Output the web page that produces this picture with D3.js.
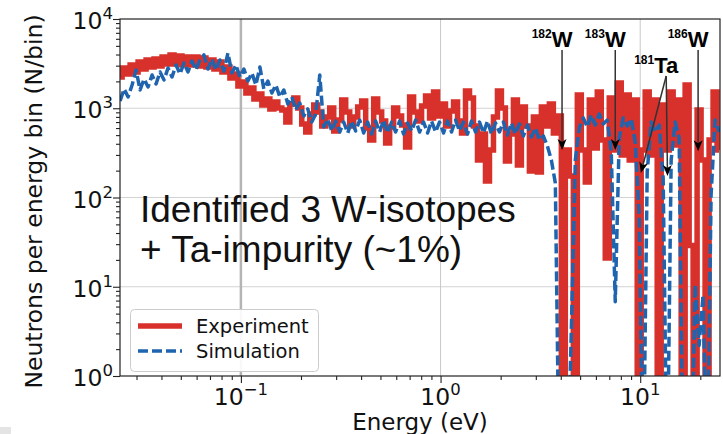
<!DOCTYPE html>
<html>
<head>
<meta charset="utf-8">
<script src="https://cdn.jsdelivr.net/npm/d3@7"></script>
<style>
  body { margin: 0; background: #ffffff; }
  svg { display: block; }
</style>
</head>
<body>
<svg id="chart" width="723" height="434"></svg>
<script>
// Neutron energy bins (eV)
const energy = [
  0.02483, 0.02600, 0.02723, 0.02851, 0.02985, 0.03126, 0.03273, 0.03428, 0.03589, 0.03758,
  0.03936, 0.04121, 0.04315, 0.04519, 0.04732, 0.04955, 0.05188, 0.05433, 0.05689, 0.05957,
  0.06237, 0.06531, 0.06839, 0.07161, 0.07499, 0.07852, 0.08222, 0.08610, 0.09016, 0.09441,
  0.09886, 0.1035, 0.1084, 0.1135, 0.1189, 0.1245, 0.1303, 0.1365, 0.1429, 0.1496,
  0.1567, 0.1641, 0.1718, 0.1799, 0.1884, 0.1972, 0.2065, 0.2163, 0.2265, 0.2371,
  0.2483, 0.2600, 0.2723, 0.2851, 0.2985, 0.3126, 0.3273, 0.3428, 0.3589, 0.3758,
  0.3936, 0.4121, 0.4315, 0.4519, 0.4732, 0.4955, 0.5188, 0.5433, 0.5689, 0.5957,
  0.6237, 0.6531, 0.6839, 0.7161, 0.7499, 0.7852, 0.8222, 0.8610, 0.9016, 0.9441,
  0.9886, 1.035, 1.084, 1.135, 1.189, 1.245, 1.303, 1.365, 1.429, 1.496,
  1.567, 1.641, 1.718, 1.799, 1.884, 1.972, 2.065, 2.163, 2.265, 2.371,
  2.483, 2.600, 2.723, 2.851, 2.985, 3.126, 3.273, 3.428, 3.589, 3.758,
  3.936, 4.121, 4.315, 4.519, 4.732, 4.955, 5.188, 5.433, 5.689, 5.957,
  6.237, 6.531, 6.839, 7.161, 7.499, 7.852, 8.222, 8.610, 9.016, 9.441,
  9.886, 10.35, 10.84, 11.35, 11.89, 12.45, 13.03, 13.65, 14.29, 14.96,
  15.67, 16.41, 17.18, 17.99, 18.84, 19.72, 20.65, 21.63, 22.65, 23.71,
  24.83
];

// Measured counts per bin (0 = empty bin)
const experiment = [
  2239, 2825, 2421, 3055, 2547, 3297, 2754, 3475, 2897, 3565,
  2972, 3750, 3133, 3954, 3133, 3846, 3055, 3750, 3055, 3750,
  2972, 3656, 2897, 3475, 2754, 3297, 2547, 2897, 2183, 2421,
  1774, 1968, 1483, 1687, 1271, 1445, 1089, 1271, 982, 1175,
  1007, 957, 701, 1117, 1303, 1007, 667, 542, 863, 1089,
  908, 632, 798, 1007, 556, 738, 1239, 908, 632, 798,
  1033, 1205, 601, 441, 1271, 908, 719, 408, 617, 1007,
  818, 649, 368, 1337, 908, 719, 1059, 1371, 778, 1521,
  818, 1117, 632, 931, 1175, 719, 528, 1560, 1303, 632,
  263, 515, 153, 341, 798, 1560, 1007, 256, 515, 1239,
  231, 1033, 632, 198, 798, 193, 1033, 632, 1117, 528,
  818, 0, 341, 174, 0, 1409, 341, 149, 1239, 358,
  1521, 441, 21, 1303, 341, 1919, 299, 1409, 263, 1239,
  0, 341, 1521, 299, 1239, 0, 1089, 341, 1521, 387,
  1239, 0, 1824, 29, 0, 957, 263, 0, 441, 1521,
  341
];

// Simulated counts per bin
const simulation = [
  1205, 1644, 1337, 1824, 2685, 1603, 2128, 1730, 2360, 1871,
  2547, 2075, 2825, 2239, 3055, 2421, 3214, 2547, 3381, 2685,
  3475, 3954, 2754, 3565, 2685, 3475, 2612, 4159, 2483, 3055,
  2239, 2754, 2018, 2483, 1824, 2897, 1644, 2018, 1483, 1824,
  1337, 1603, 1117, 1337, 957, 1146, 818, 982, 701, 863,
  2360, 617, 759, 556, 719, 542, 701, 528, 719, 556,
  738, 528, 701, 515, 719, 542, 738, 528, 701, 542,
  719, 515, 684, 556, 738, 542, 701, 528, 719, 542,
  701, 528, 719, 542, 738, 556, 701, 515, 719, 542,
  701, 528, 719, 515, 684, 542, 701, 501, 684, 515,
  667, 489, 649, 476, 601, 441, 489, 378, 263, 145,
  0.05, 0.05, 0.05, 3.3, 263, 601, 778, 617, 841, 649,
  863, 667, 738, 324, 6.8, 465, 778, 632, 759, 419,
  64, 0.05, 193, 701, 542, 649, 166, 0.05, 263, 701,
  465, 0.05, 0.05, 0.05, 10.5, 2.2, 8.1, 0.05, 107, 738,
  542
];

const seriesNames = ["Experiment", "Simulation"];
const seriesColors = ["#d8302a", "#1f64ae"];

const xMajorTicks = [0.1, 1, 10];
const xTickExponents = ["\u22121", "0", "1"];
const yMajorTicks = [1, 10, 100, 1000, 10000];
const yTickExponents = ["0", "1", "2", "3", "4"];

// Resonance markers
const tungstenMass = ["182", "183", "186"];
const tungstenEnergy = [4.06, 7.50, 19.5];
const tungstenTipCounts = [341, 341, 330];
const tantalumMass = "181";
const tantalumEnergy = [10.08, 13.7];
const tantalumTipCounts = [188, 174];

const noteLines = ["Identified 3 W-isotopes", "+ Ta-impurity (~1%)"];

// ---------------------------------------------------------------
const plot = { left: 120, right: 720, top: 19, bottom: 376 };
const x = d3.scaleLog().domain([0.0248, 25.1]).range([plot.left, plot.right]);
const y = d3.scaleLog().domain([1, 1e4]).range([plot.bottom, plot.top]);
const FLOOR = 0.05;               // empty bins are drawn below the axis
const yv = v => y(Math.max(v, FLOOR));

const svg = d3.select("#chart");
const TXT = "#111111";

svg.append("rect").attr("x", 0).attr("y", 427).attr("width", 11).attr("height", 7).attr("fill", "#e4e4e4");

svg.append("defs").append("clipPath").attr("id", "plotClip")
  .append("rect")
  .attr("x", plot.left).attr("y", plot.top)
  .attr("width", plot.right - plot.left).attr("height", plot.bottom - plot.top);

// Grid
const grid = svg.append("g");
grid.selectAll("line.h").data([10, 100, 1000]).join("line")
  .attr("x1", plot.left).attr("x2", plot.right)
  .attr("y1", d => y(d)).attr("y2", d => y(d))
  .attr("stroke", "#d2d2d2").attr("stroke-width", 1.2);
grid.selectAll("line.v").data([1, 10]).join("line")
  .attr("x1", d => x(d)).attr("x2", d => x(d))
  .attr("y1", plot.top).attr("y2", plot.bottom)
  .attr("stroke", "#c8c8c8").attr("stroke-width", 1);
grid.append("line")
  .attr("x1", x(0.1)).attr("x2", x(0.1))
  .attr("y1", plot.top).attr("y2", plot.bottom)
  .attr("stroke", "#b4b4b4").attr("stroke-width", 2.5);

// Data
const dataG = svg.append("g").attr("clip-path", "url(#plotClip)");
const expPts = energy.map((e, i) => [e, experiment[i]]);
const simPts = energy.map((e, i) => [e, simulation[i]]);

dataG.append("path")
  .attr("d", d3.line().x(d => x(d[0])).y(d => yv(d[1])).curve(d3.curveStep)(expPts))
  .attr("fill", "none").attr("stroke", seriesColors[0])
  .attr("stroke-width", 5.5).attr("stroke-linejoin", "miter");

dataG.append("path")
  .attr("d", d3.line().x(d => x(d[0])).y(d => yv(d[1]))(simPts))
  .attr("fill", "none").attr("stroke", seriesColors[1])
  .attr("stroke-width", 3.5).attr("stroke-dasharray", "10,4")
  .attr("stroke-linejoin", "round");

// Axes ticks
const xMinor = [], yMinor = [];
[0.01, 0.1, 1, 10].forEach(d => { for (let m = 2; m <= 9; m++) { const v = m * d; if (v > 0.0248 && v < 25.1) xMinor.push(v); } });
[1, 10, 100, 1000].forEach(d => { for (let m = 2; m <= 9; m++) yMinor.push(m * d); });

function styleAxis(g) {
  g.select(".domain").remove();
  g.selectAll(".tick line").attr("stroke", "#222").attr("stroke-width", 1.1);
  g.selectAll(".tick text").remove();
}
svg.append("g").attr("transform", `translate(0,${plot.bottom})`)
  .call(d3.axisBottom(x).tickValues(xMajorTicks).tickSize(7).tickFormat("")).call(styleAxis);
svg.append("g").attr("transform", `translate(0,${plot.bottom})`)
  .call(d3.axisBottom(x).tickValues(xMinor).tickSize(4).tickFormat("")).call(styleAxis);
svg.append("g").attr("transform", `translate(${plot.left},0)`)
  .call(d3.axisLeft(y).tickValues(yMajorTicks).tickSize(7).tickFormat("")).call(styleAxis);
svg.append("g").attr("transform", `translate(${plot.left},0)`)
  .call(d3.axisLeft(y).tickValues(yMinor).tickSize(4).tickFormat("")).call(styleAxis);

// Frame
svg.append("rect")
  .attr("x", plot.left).attr("y", plot.top)
  .attr("width", plot.right - plot.left).attr("height", plot.bottom - plot.top)
  .attr("fill", "none").attr("stroke", "#222").attr("stroke-width", 1.2);

// Tick labels (powers of ten)
const tickFont = "DejaVu Sans";
xMajorTicks.forEach((t, i) => {
  const tx = svg.append("text").attr("x", x(t)).attr("y", 405)
    .attr("text-anchor", "middle").attr("font-family", tickFont).attr("fill", TXT);
  tx.append("tspan").attr("font-size", 23.5).text("10");
  tx.append("tspan").attr("font-size", 16.5).attr("dy", -10).text(xTickExponents[i]);
});
yMajorTicks.forEach((t, i) => {
  const ty = svg.append("text").attr("x", 113).attr("y", y(t) + 10)
    .attr("text-anchor", "end").attr("font-family", tickFont).attr("fill", TXT);
  ty.append("tspan").attr("font-size", 23.5).text("10");
  ty.append("tspan").attr("font-size", 16.5).attr("dy", -10).text(yTickExponents[i]);
});

// Axis titles
svg.append("text").attr("x", (plot.left + plot.right) / 2).attr("y", 430)
  .attr("text-anchor", "middle").attr("font-family", tickFont).attr("font-size", 23)
  .attr("fill", TXT).text("Energy (eV)");
svg.append("text")
  .attr("transform", `translate(42,${(plot.top + plot.bottom) / 2 + 4}) rotate(-90)`)
  .attr("text-anchor", "middle").attr("font-family", tickFont).attr("font-size", 23.5)
  .attr("fill", TXT).text("Neutrons per energy bin (N/bin)");

// Legend
const lg = svg.append("g");
lg.append("rect").attr("x", 130.5).attr("y", 309.5).attr("width", 188).attr("height", 62)
  .attr("rx", 4).attr("fill", "#ffffff").attr("fill-opacity", 0.9)
  .attr("stroke", "#cccccc").attr("stroke-width", 1);
seriesNames.forEach((name, i) => {
  const cy = 326 + i * 25;
  const l = lg.append("line").attr("x1", 138).attr("x2", 182).attr("y1", cy).attr("y2", cy)
    .attr("stroke", seriesColors[i]);
  if (i === 0) l.attr("stroke-width", 5.5);
  else l.attr("stroke-width", 3.5).attr("stroke-dasharray", "10,4");
  lg.append("text").attr("x", 196).attr("y", cy + 7)
    .attr("font-family", tickFont).attr("font-size", 19.5).attr("fill", TXT).text(name);
});

// Note
noteLines.forEach((t, i) => {
  svg.append("text").attr("x", 140).attr("y", 222 + i * 40)
    .attr("font-family", "Liberation Sans, Arial, sans-serif").attr("font-size", 37)
    .attr("fill", TXT).text(t);
});

// Resonance labels and arrows
const annG = svg.append("g");
function arrow(x1, y1, x2, y2) {
  const L = 11, w = 4.5, notch = 3;
  const ang = Math.atan2(y2 - y1, x2 - x1);
  const ux = Math.cos(ang), uy = Math.sin(ang), nx = -uy, ny = ux;
  const bx = x2 - L * ux, by = y2 - L * uy;
  annG.append("line").attr("x1", x1).attr("y1", y1)
    .attr("x2", x2 - (L - notch) * ux).attr("y2", y2 - (L - notch) * uy)
    .attr("stroke", "#333").attr("stroke-width", 1.5);
  annG.append("path")
    .attr("d", `M${x2},${y2}L${bx + w * nx},${by + w * ny}L${x2 - (L - notch) * ux},${y2 - (L - notch) * uy}L${bx - w * nx},${by - w * ny}Z`)
    .attr("fill", "#000");
}
function isotopeLabel(cx, baseline, mass, sym) {
  const main = annG.append("text").attr("x", cx).attr("y", baseline)
    .attr("text-anchor", "middle").attr("font-family", "Liberation Sans, Arial, sans-serif")
    .attr("font-weight", "bold").attr("font-size", 22).attr("fill", "#000").text(sym);
  const wdt = main.node().getComputedTextLength();
  annG.append("text").attr("x", cx - wdt / 2).attr("y", baseline - 9)
    .attr("text-anchor", "end").attr("font-family", "Liberation Sans, Arial, sans-serif")
    .attr("font-weight", "bold").attr("font-size", 12).attr("fill", "#000").text(mass);
}
tungstenEnergy.forEach((e, i) => {
  const ax = x(e);
  isotopeLabel(ax, 47, tungstenMass[i], "W");
  arrow(ax, 50, ax, y(tungstenTipCounts[i]));
});
const taX = (x(tantalumEnergy[0]) + x(tantalumEnergy[1])) / 2 + 12;
isotopeLabel(taX, 73, tantalumMass, "Ta");
tantalumEnergy.forEach((e, i) => {
  arrow(taX, 76, x(e), y(tantalumTipCounts[i]));
});
</script>
</body>
</html>
